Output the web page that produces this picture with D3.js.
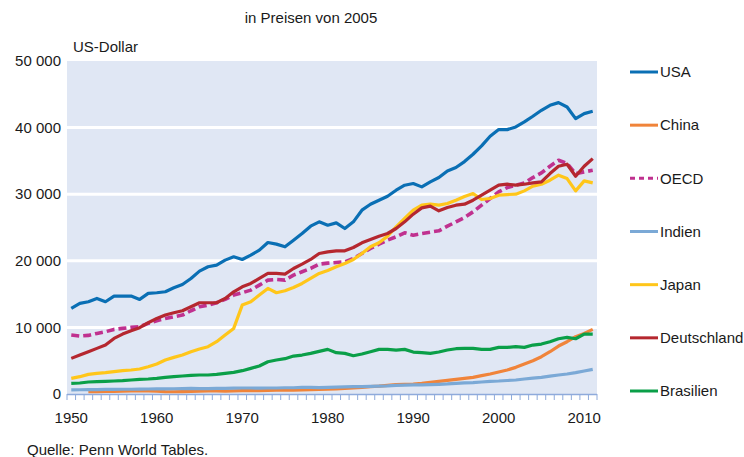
<!DOCTYPE html>
<html lang="de">
<head>
<meta charset="UTF-8">
<title>BIP pro Kopf in Preisen von 2005</title>
<script src="https://d3js.org/d3.v7.min.js"></script>
<style>
    body { margin: 0; background: #fff; }
    svg { display: block; }
    text { font-family: "Liberation Sans", Arial, sans-serif; fill: #1a1a1a; }
</style>
</head>
<body>
<script>
// years 1950..2011
const years = d3.range(1950, 2012);
const yTicks = [0, 10000, 20000, 30000, 40000, 50000];
const xTickLabels = [1950, 1960, 1970, 1980, 1990, 2000, 2010];

const usa = [12850, 13600, 13850, 14350, 13850, 14700, 14700, 14700, 14200, 15100,
    15200, 15350, 15950, 16450, 17350, 18450, 19100, 19350, 20100, 20600,
    20200, 20850, 21600, 22750, 22500, 22100, 23100, 24100, 25200, 25850,
    25350, 25700, 24850, 25850, 27600, 28500, 29100, 29700, 30600, 31350,
    31600, 31100, 31850, 32500, 33500, 34000, 34900, 36000, 37250, 38700,
    39700, 39700, 40100, 40850, 41700, 42600, 43350, 43750, 43100, 41350,
    42100, 42450];
const china = [null, null, 350, 370, 380, 400, 430, 450, 480, 470,
    440, 360, 340, 370, 400, 440, 470, 450, 430, 460,
    500, 510, 520, 550, 560, 590, 580, 610, 660, 700,
    740, 770, 830, 900, 1000, 1100, 1180, 1300, 1420, 1460,
    1500, 1600, 1750, 1900, 2050, 2200, 2350, 2500, 2750, 3000,
    3300, 3600, 4000, 4500, 5000, 5600, 6350, 7200, 7850, 8600,
    9100, 9700];
const oecd = [8850, 8700, 8800, 9100, 9350, 9700, 9850, 10000, 10100, 10600,
    11000, 11350, 11600, 11850, 12500, 13100, 13350, 13700, 14200, 14850,
    15200, 15600, 16350, 17100, 17200, 17100, 17850, 18350, 18850, 19500,
    19650, 19750, 19850, 20350, 21100, 21850, 22500, 23100, 23600, 24200,
    23850, 24100, 24300, 24500, 25200, 25850, 26500, 27350, 28350, 29350,
    30350, 31000, 31350, 31700, 32500, 33200, 34200, 35100, 34600, 33100,
    33350, 33600];
const indien = [620, 640, 650, 670, 680, 690, 710, 710, 740, 750,
    770, 780, 790, 800, 830, 800, 800, 840, 850, 880,
    900, 900, 890, 900, 900, 940, 940, 980, 1000, 960,
    1000, 1040, 1060, 1100, 1120, 1150, 1180, 1210, 1290, 1340,
    1380, 1370, 1410, 1450, 1510, 1600, 1680, 1720, 1800, 1900,
    1950, 2030, 2100, 2250, 2380, 2500, 2680, 2850, 3000, 3200,
    3450, 3700];
const japan = [2350, 2600, 2950, 3100, 3200, 3350, 3500, 3600, 3750, 4100,
    4500, 5100, 5500, 5850, 6350, 6750, 7100, 7850, 8850, 9850,
    13350, 13850, 14850, 15850, 15200, 15500, 16000, 16600, 17350, 18100,
    18550, 19100, 19600, 20200, 21100, 22100, 22700, 23700, 25100, 26350,
    27600, 28350, 28500, 28350, 28600, 29100, 29650, 30100, 29200, 29350,
    29850, 29950, 30000, 30500, 31200, 31500, 32100, 32850, 32350, 30500,
    32000, 31700];
const deutschland = [5350, 5850, 6350, 6850, 7350, 8350, 9000, 9500, 9950, 10700,
    11350, 11850, 12200, 12500, 13100, 13700, 13700, 13700, 14350, 15350,
    16100, 16600, 17350, 18100, 18100, 18000, 18850, 19500, 20200, 21100,
    21350, 21500, 21500, 22000, 22700, 23200, 23700, 24100, 24850, 25850,
    27000, 27950, 28200, 27500, 28000, 28350, 28500, 29100, 29850, 30600,
    31350, 31500, 31350, 31500, 31700, 31850, 33100, 34200, 34500, 32700,
    34200, 35350];
const brasilien = [1600, 1650, 1800, 1850, 1900, 1950, 2000, 2100, 2200, 2250,
    2350, 2500, 2600, 2700, 2800, 2850, 2850, 2950, 3100, 3250,
    3500, 3850, 4200, 4850, 5100, 5300, 5700, 5850, 6100, 6400,
    6700, 6200, 6100, 5750, 6000, 6350, 6700, 6700, 6600, 6700,
    6300, 6200, 6100, 6300, 6600, 6800, 6850, 6850, 6700, 6700,
    7000, 7000, 7100, 7000, 7350, 7500, 7850, 8300, 8500, 8300,
    9000, 9000];

const seriesNames = ["USA", "China", "OECD", "Indien", "Japan", "Deutschland", "Brasilien"];
const seriesValues = [usa, china, oecd, indien, japan, deutschland, brasilien];
const seriesColors = ["#0a6fb4", "#f0843a", "#c0318f", "#7ba9d6", "#ffc61a", "#b5272f", "#0a9f48"];

const width = 744, height = 457;
const plot = {left: 67, right: 597, top: 61, bottom: 394};

const svg = d3.select("body").append("svg")
    .attr("width", width)
    .attr("height", height);

const x = d3.scalePoint()
    .domain(years)
    .range([plot.left, plot.right])
    .padding(0.5);

const y = d3.scaleLinear()
    .domain([0, 50000])
    .range([plot.bottom, plot.top]);

const fmt = d3.formatLocale({decimal: ",", thousands: "\u00a0", grouping: [3], currency: ["", ""]}).format(",d");

// background
svg.append("rect")
    .attr("x", plot.left)
    .attr("y", plot.top)
    .attr("width", plot.right - plot.left)
    .attr("height", plot.bottom - plot.top)
    .attr("fill", "#e0e7f4");

// white gridlines
svg.append("g")
    .selectAll("line")
    .data(yTicks.filter(d => d > 0 && d < 50000))
    .join("line")
    .attr("x1", plot.left)
    .attr("x2", plot.right)
    .attr("y1", d => y(d))
    .attr("y2", d => y(d))
    .attr("stroke", "#fff")
    .attr("stroke-width", 3);

// y labels
svg.append("g")
    .selectAll("text")
    .data(yTicks)
    .join("text")
    .attr("x", 61)
    .attr("y", d => y(d))
    .attr("dy", "0.35em")
    .attr("text-anchor", "end")
    .attr("font-size", 15)
    .text(d => fmt(d));

// x axis line and category ticks
const step = x.step();
svg.append("line")
    .attr("x1", plot.left)
    .attr("x2", plot.right)
    .attr("y1", plot.bottom + 0.5)
    .attr("y2", plot.bottom + 0.5)
    .attr("stroke", "#8eaadb")
    .attr("stroke-width", 1.5);

svg.append("g")
    .selectAll("line")
    .data(years.concat([years[years.length - 1] + 1]))
    .join("line")
    .attr("x1", (d, i) => plot.left + i * step)
    .attr("x2", (d, i) => plot.left + i * step)
    .attr("y1", plot.bottom)
    .attr("y2", plot.bottom + 6)
    .attr("stroke", "#8eaadb")
    .attr("stroke-width", 1);

svg.append("g")
    .selectAll("text")
    .data(xTickLabels)
    .join("text")
    .attr("x", d => x(d))
    .attr("y", 423)
    .attr("text-anchor", "middle")
    .attr("font-size", 15)
    .text(d => d);

// lines
const line = d3.line()
    .defined(d => d.v != null)
    .x(d => x(d.year))
    .y(d => y(d.v));

seriesNames.forEach((name, i) => {
    const pts = years.map((yr, j) => ({year: yr, v: seriesValues[i][j]}));
    svg.append("path")
        .datum(pts)
        .attr("fill", "none")
        .attr("stroke", seriesColors[i])
        .attr("stroke-width", name === "OECD" ? 3.6 : 3.2)
        .attr("stroke-dasharray", name === "OECD" ? "8,4" : null)
        .attr("stroke-linejoin", "round")
        .attr("d", line);
});

// legend
const legendY = d3.scalePoint()
    .domain(seriesNames)
    .range([72, 391]);

const legend = svg.append("g");
seriesNames.forEach((name, i) => {
    legend.append("line")
        .attr("x1", 630)
        .attr("x2", 658)
        .attr("y1", legendY(name))
        .attr("y2", legendY(name))
        .attr("stroke", seriesColors[i])
        .attr("stroke-width", 3)
        .attr("stroke-dasharray", name === "OECD" ? "5,4" : null);
    legend.append("text")
        .attr("x", 660)
        .attr("y", legendY(name))
        .attr("dy", "0.35em")
        .attr("font-size", 15)
        .text(name);
});

// titles
svg.append("text")
    .attr("x", 311)
    .attr("y", 23)
    .attr("text-anchor", "middle")
    .attr("font-size", 15)
    .text("in Preisen von 2005");

svg.append("text")
    .attr("x", 73)
    .attr("y", 52)
    .attr("font-size", 15)
    .text("US-Dollar");

svg.append("text")
    .attr("x", 27)
    .attr("y", 455)
    .attr("font-size", 15)
    .text("Quelle: Penn World Tables.");
</script>
</body>
</html>
